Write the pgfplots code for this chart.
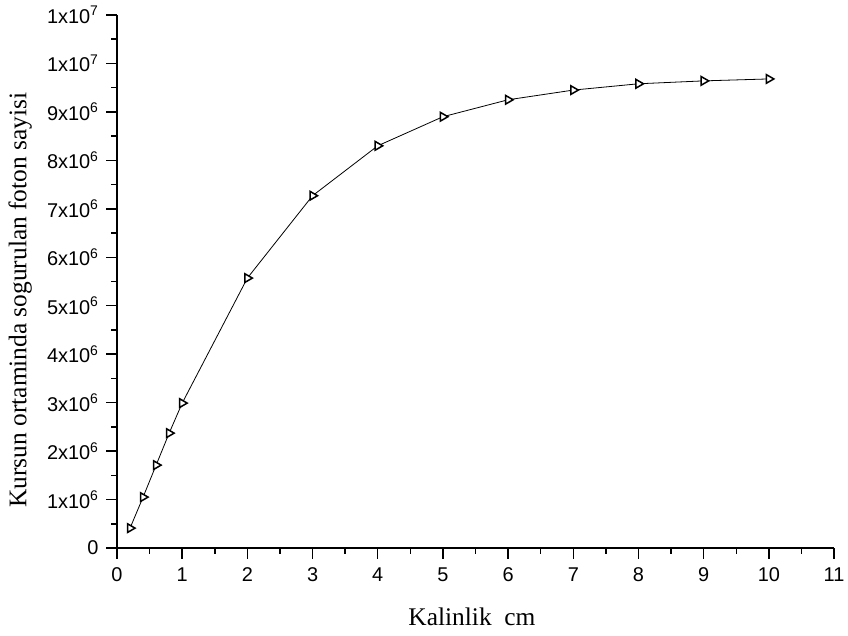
\documentclass[border=0pt]{standalone}
\usepackage{fontspec}
\setmainfont{Liberation Serif}
\newfontfamily\arial{Liberation Sans}
\usepackage{pgfplots}
\pgfplotsset{compat=1.18}

\begin{document}
\begin{tikzpicture}
\begin{axis}[
    scale only axis,
    width=717bp,
    height=533bp,
    xmin=0, xmax=11,
    ymin=0, ymax=11000000,
    axis x line*=bottom,
    axis y line*=left,
    axis line style={-, line width=1.6bp},
    tick align=outside,
    major tick length=11bp,
    minor tick length=6bp,
    tick style={black, line width=1.5bp},
    xtick={0,1,...,11},
    minor x tick num=1,
    ytick={0,1000000,2000000,3000000,4000000,5000000,6000000,7000000,8000000,9000000,10000000,11000000},
    yticklabels={0,1x10\textsuperscript{6},2x10\textsuperscript{6},3x10\textsuperscript{6},4x10\textsuperscript{6},5x10\textsuperscript{6},6x10\textsuperscript{6},7x10\textsuperscript{6},8x10\textsuperscript{6},9x10\textsuperscript{6},1x10\textsuperscript{7},1x10\textsuperscript{7}},
    minor y tick num=1,
    scaled y ticks=false,
    /pgf/number format/assume math mode=true,
    tick label style={font=\arial\fontsize{20}{20}\selectfont},
    xticklabel style={yshift=-5bp},
    yticklabel style={xshift=-4bp},
    label style={font=\fontsize{25.5}{25.5}\selectfont},
    xlabel={Kalinlik\ \ cm},
    ylabel={Kursun ortaminda sogurulan foton sayisi},
    xlabel style={at={(axis description cs:0.495,-0.146)}, anchor=base},
    ylabel style={at={(axis description cs:-0.135,0.465)}, anchor=center, rotate=0},
    clip=false,
]
\addplot[black, line width=0.8bp, mark=triangle*, mark size=5bp,
    mark options={rotate=-90, fill=white, draw=black, line width=1.5bp, solid}]
coordinates {
    (0.2, 410000) (0.4, 1050000) (0.6, 1710000) (0.8, 2370000) (1, 2990000)
    (2, 5570000) (3, 7270000) (4, 8300000) (5, 8900000) (6, 9250000)
    (7, 9450000) (8, 9580000) (9, 9640000) (10, 9680000)
};
\path (axis description cs:-0.1632,-0.1651) rectangle (axis description cs:1.0195,1.0281);
\end{axis}
\end{tikzpicture}
\end{document}
